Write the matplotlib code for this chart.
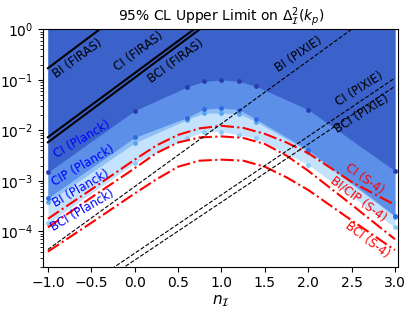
import numpy as np
import matplotlib
matplotlib.use('Agg')
import matplotlib.pyplot as plt

# spectral index grid of the Planck constraints
n_planck = [-1.0, 0.0, 0.6, 0.8, 1.0, 1.2, 1.4, 2.0, 3.0]

# 95% CL upper limits (Planck), log10
ci_planck = [-2.83, -1.61, -1.145, -1.03, -1.0, -1.03, -1.13, -1.59, -2.80]
cip_planck = [-3.34, -2.14, -1.75, -1.58, -1.56, -1.59, -1.78, -2.39, -3.69]
bi_planck = [-3.42, -2.25, -1.79, -1.66, -1.66, -1.67, -1.83, -2.42, -3.71]
bci_planck = [-3.84, -2.65, -2.15, -2.03, -2.03, -2.09, -2.155, -2.68, -3.92]

# CMB-S4 forecasts (log10)
n_s4 = [-1.0, -0.5, 0.0, 0.25, 0.5, 0.75, 1.0, 1.25, 1.5, 1.75, 2.0, 2.5, 3.0]
ci_s4 = [-3.75, -3.17, -2.58, -2.30, -2.09, -1.96, -1.91, -1.95, -2.07, -2.24, -2.45, -3.02, -3.475]
bicip_s4 = [-3.92, -3.33, -2.75, -2.45, -2.24, -2.14, -2.12, -2.15, -2.27, -2.50, -2.80, -3.47, -4.155]
bci_s4 = [-4.40, -3.83, -3.25, -2.97, -2.72, -2.60, -2.58, -2.60, -2.72, -2.93, -3.18, -3.78, -4.37]

# spectral distortion limits (log10 at the two ends of the range)
n_sd = [-1.0, 3.0]
bi_firas = [-0.77, 4.39]
ci_firas = [-2.136, 2.94]
bci_firas = [-2.236, 2.876]
bi_pixie = [-4.358, 0.622]
ci_pixie = [-5.59, -0.964]
bci_pixie = [-5.715, -1.127]

fig = plt.figure(figsize=(4.15, 3.11), dpi=100)
ax = fig.add_axes([0.104, 0.1424, 0.856, 0.7634])
ax.set_yscale('log')

def v(a):
    return 10**np.array(a)

# nested exclusion regions, lightest (weakest bound) first
bands = [(bci_planck, '#c4e2fb', '#8ecbf8'),
         (bi_planck, '#8fbff4', '#5aa5f2'),
         (cip_planck, '#5b8fe8', '#2e6be3'),
         (ci_planck, '#3b62ca', '#2a3db0')]
for vals, fc, dc in bands:
    ax.fill_between(n_planck, v(vals), 1.0, color=fc, lw=0)
for vals, fc, dc in bands:
    ax.plot(n_planck, v(vals), 'o', color=dc, ms=3.5, mec='none')

for vals in [ci_s4, bicip_s4, bci_s4]:
    ax.plot(n_s4, v(vals), '-.', color='red', lw=1.5)

for vals in [bi_firas, ci_firas, bci_firas]:
    ax.plot(n_sd, v(vals), '-', color='black', lw=1.5)
for vals in [bi_pixie, ci_pixie, bci_pixie]:
    ax.plot(n_sd, v(vals), '--', color='black', lw=0.8)

fs = 8.5
labels = [('BI (FIRAS)', -0.66, 0.27, 36, 'black'),
          ('CI (FIRAS)', 0.05, 0.37, 36, 'black'),
          ('BCI (FIRAS)', 0.47, 0.24, 36, 'black'),
          ('BI (PIXIE)', 1.89, 0.32, 34, 'black'),
          ('CI (PIXIE)', 2.59, 0.066, 32, 'black'),
          ('BCI (PIXIE)', 2.62, 0.0212, 32, 'black'),
          ('CI (Planck)', -0.61, 6.5e-3, 30, 'blue'),
          ('CIP (Planck)', -0.59, 1.98e-3, 30, 'blue'),
          ('BI (Planck)', -0.62, 6.95e-4, 30, 'blue'),
          ('BCI (Planck)', -0.60, 2.55e-4, 30, 'blue'),
          ('CI (S-4)', 2.65, 1.1e-3, -35, 'red'),
          ('BI/CIP (S-4)', 2.58, 4.3e-4, -37, 'red'),
          ('BCI (S-4)', 2.68, 6.8e-5, -37, 'red')]
for txt, x, y, rot, c in labels:
    ax.text(x, y, txt, color=c, fontsize=fs, rotation=rot,
            ha='center', va='center', rotation_mode='anchor')

ax.set_xlim(-1.055, 3.04)
ax.set_ylim(2e-5, 1)
ax.set_xticks(np.arange(-1.0, 3.01, 0.5))
ax.tick_params(labelsize=10)
ax.set_xlabel(r'$n_\mathcal{I}$', fontsize=11, labelpad=2)
ax.set_title(r'95% CL Upper Limit on $\Delta^2_\mathcal{I}(k_p)$', fontsize=10)

fig.savefig('out.png', dpi=100)
